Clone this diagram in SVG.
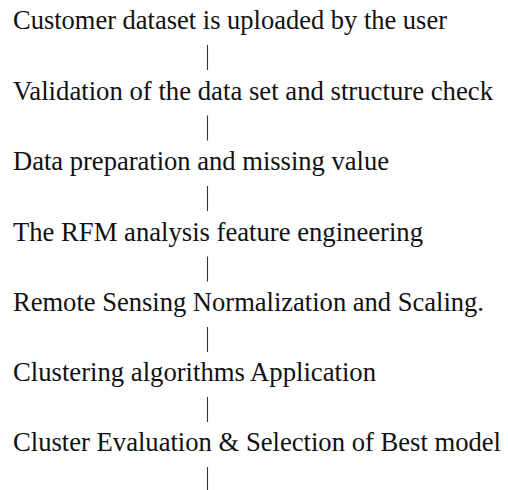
<svg xmlns="http://www.w3.org/2000/svg" width="508" height="490" viewBox="0 0 508 490">
<style>
.t{font-family:"Liberation Serif","Times New Roman",serif;font-size:26.5px;fill:#111}
.c{stroke:#333;stroke-width:1.1}
</style>
<rect width="508" height="490" fill="#fff"/>
<g id="n1"><text class="t" x="13" y="29" textLength="434" lengthAdjust="spacingAndGlyphs">Customer dataset is uploaded by the user</text></g>
<g id="n2"><text class="t" x="13" y="99.5" textLength="480" lengthAdjust="spacingAndGlyphs">Validation of the data set and structure check</text></g>
<g id="n3"><text class="t" x="13" y="170" textLength="376" lengthAdjust="spacingAndGlyphs">Data preparation and missing value</text></g>
<g id="n4"><text class="t" x="13" y="240.5" textLength="410" lengthAdjust="spacingAndGlyphs">The RFM analysis feature engineering</text></g>
<g id="n5"><text class="t" x="13" y="311" textLength="471" lengthAdjust="spacingAndGlyphs">Remote Sensing Normalization and Scaling.</text></g>
<g id="n6"><text class="t" x="13" y="381" textLength="363" lengthAdjust="spacingAndGlyphs">Clustering algorithms Application</text></g>
<g id="n7"><text class="t" x="13" y="451" textLength="488" lengthAdjust="spacingAndGlyphs">Cluster Evaluation &amp; Selection of Best model</text></g>
<g id="connectors">
<line class="c" x1="207.5" y1="45" x2="207.5" y2="70"/>
<line class="c" x1="207.5" y1="115.5" x2="207.5" y2="140.5"/>
<line class="c" x1="207.5" y1="186" x2="207.5" y2="211"/>
<line class="c" x1="207.5" y1="256.5" x2="207.5" y2="281.5"/>
<line class="c" x1="207.5" y1="327" x2="207.5" y2="352"/>
<line class="c" x1="207.5" y1="397" x2="207.5" y2="422"/>
<line class="c" x1="207.5" y1="467" x2="207.5" y2="492"/>
</g>
</svg>
